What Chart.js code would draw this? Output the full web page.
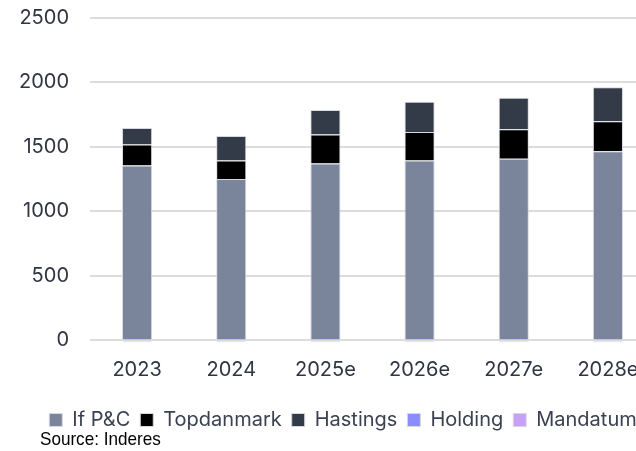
<!DOCTYPE html>
<html>
<head>
<meta charset="utf-8">
<script src="https://cdn.jsdelivr.net/npm/chart.js@4"></script>
<style>
  html, body { margin: 0; padding: 0; background: #fff; overflow: hidden; }
  #wrap { position: relative; width: 636px; height: 451px; overflow: hidden; }
  #box { position: absolute; left: 0; top: 0; width: 686px; height: 451px; }
  #source { position: absolute; left: 40px; top: 428px; font-family: "Liberation Sans Narrow", "Liberation Sans", sans-serif; font-size: 19px; color: #000; transform: scaleX(0.9); transform-origin: left top; }
</style>
</head>
<body>
<div id="wrap">
  <div id="box"><canvas id="myChart"></canvas></div>
  <div id="source">Source: Inderes</div>
</div>
<script>
// years, last four are estimates
const categories = ['2023', '2024', '2025e', '2026e', '2027e', '2028e'];
const ifPC = [1356, 1252, 1372, 1395, 1408, 1467];
const topdanmark = [163, 143, 225, 222, 230, 233];
const hastings = [129, 191, 189, 233, 243, 264];
const holding = [-15, -15, -15, -15, -15, -15];
const mandatum = [0, 0, 0, 0, 0, 0];
const yTicks = [0, 500, 1000, 1500, 2000, 2500];

const textColor = '#2f3542';

function ds(label, data, color) {
    return {
        label: label,
        data: data,
        backgroundColor: color,
        borderColor: '#d6d9e0',
        borderWidth: 1,
        barPercentage: 0.32,
        categoryPercentage: 1,
        yAxisID: 'y'
    };
}

var ctx = document.getElementById('myChart').getContext('2d');
var chart = new Chart(ctx, {
    type: 'bar',
    data: {
        labels: categories,
        datasets: [
            ds('If P&C', ifPC, '#7a849b'),
            ds('Topdanmark', topdanmark, '#000000'),
            ds('Hastings', hastings, '#333a48'),
            ds('Holding', holding, '#8a8cff'),
            ds('Mandatum', mandatum, '#c9a0f7')
        ]
    },
    options: {
        responsive: true,
        maintainAspectRatio: false,
        animation: false,
        layout: { padding: { top: 0, right: 0, bottom: 11, left: 0 } },
        plugins: {
            legend: {
                position: 'bottom',
                labels: {
                    boxWidth: 13,
                    boxHeight: 13,
                    padding: 10,
                    color: '#3a4150',
                    font: { family: 'Inter', size: 20 }
                }
            },
            tooltip: { enabled: false }
        },
        scales: {
            x: {
                stacked: true,
                grid: { display: false },
                border: { display: false },
                afterFit: function (s) { s.height = 57; },
                ticks: {
                    color: textColor,
                    padding: 7,
                    font: { family: 'Inter', size: 20 },
                    maxRotation: 0
                }
            },
            y: {
                stacked: true,
                min: -20,
                max: 2500,
                afterBuildTicks: function (axis) {
                    axis.ticks = yTicks.map(v => ({ value: v }));
                },
                afterFit: function (s) {
                    s.width = 90;
                    // tick padding would otherwise push the top down
                    s.paddingTop = 18;
                    s.paddingBottom = 0;
                },
                grid: { color: '#dcdcdc', lineWidth: 2, drawTicks: false },
                border: { display: false },
                ticks: {
                    color: textColor,
                    padding: 21,
                    font: { family: 'Inter', size: 20 },
                    callback: function (v) { return String(v); }
                }
            },
            // empty axis on the right so the plot runs past the visible edge
            yRight: {
                position: 'right',
                grid: { display: false },
                border: { display: false },
                ticks: { display: false },
                afterFit: function (s) { s.width = 31; }
            }
        }
    }
});
</script>
</body>
</html>
